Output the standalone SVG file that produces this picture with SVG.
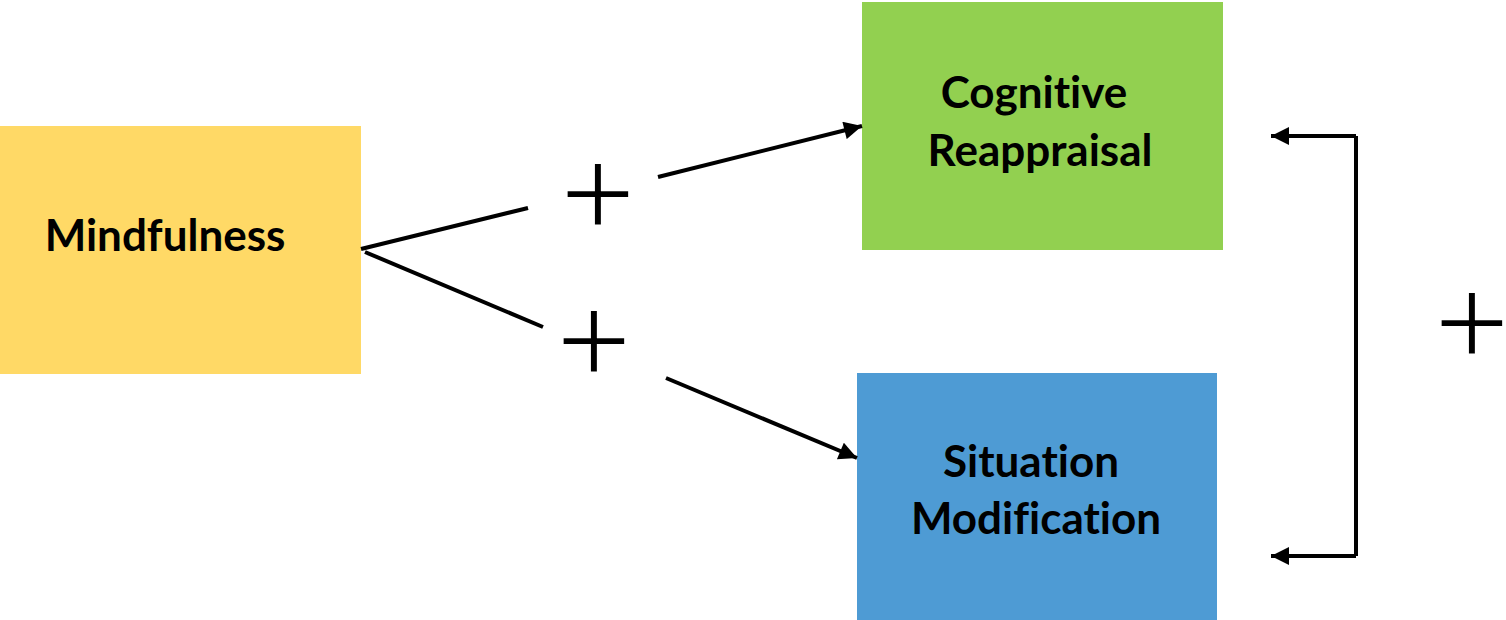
<svg xmlns="http://www.w3.org/2000/svg" width="1506" height="620" viewBox="0 0 1506 620">
<style>
.lbl{font-family:Lato,"Open Sans","Liberation Sans",sans-serif;font-weight:700;font-size:44px;fill:#000;text-anchor:middle;font-variant-ligatures:none}
.plus{font-family:Inter,Lato,"Liberation Sans",sans-serif;font-weight:200;font-size:140px;fill:#000;text-anchor:middle}
.ln{stroke:#000;stroke-width:4;fill:none}
</style>
<defs>
<marker id="ah" viewBox="0 0 10 10" refX="10" refY="5" markerWidth="5" markerHeight="4.5" orient="auto" markerUnits="strokeWidth">
<path d="M0,0 L10,5 L0,10 z" fill="#000"/>
</marker>
</defs>
<rect width="1506" height="620" fill="#fff"/>
<g id="mindfulness">
<rect x="0" y="126" width="361" height="248" fill="#FFD966"/>
<text class="lbl" x="165" y="251">Mindfulness</text>
</g>
<g id="cognitive-reappraisal">
<rect x="862" y="2" width="361" height="248" fill="#92D050"/>
<text class="lbl" x="1034" y="108">Cognitive</text>
<text class="lbl" x="1040" y="166">Reappraisal</text>
</g>
<g id="situation-modification">
<rect x="857" y="373" width="360" height="247" fill="#4E9BD4"/>
<text class="lbl" x="1031" y="477">Situation</text>
<text class="lbl" x="1036" y="534">Modification</text>
</g>
<g id="connectors">
<line class="ln" x1="361" y1="249" x2="528" y2="208"/>
<line class="ln" x1="365" y1="252" x2="543" y2="327"/>
<line class="ln" x1="658" y1="177" x2="862" y2="126" marker-end="url(#ah)"/>
<line class="ln" x1="666" y1="378" x2="857" y2="458" marker-end="url(#ah)"/>
<polyline class="ln" stroke-width="3" points="1356,136 1356,556"/>
<line class="ln" x1="1356" y1="136" x2="1271" y2="136" marker-end="url(#ah)"/>
<line class="ln" x1="1356" y1="556" x2="1271" y2="556" marker-end="url(#ah)"/>
</g>
<g id="labels">
<text class="plus" x="598" y="234">+</text>
<text class="plus" x="594" y="381">+</text>
<text class="plus" x="1472" y="363">+</text>
</g>
</svg>
